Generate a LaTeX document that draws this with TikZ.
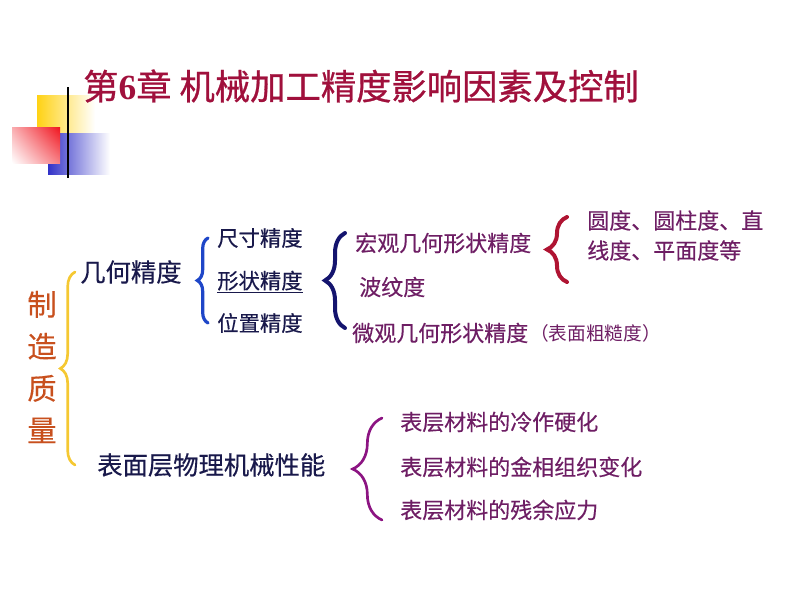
\documentclass[tikz,border=0pt]{standalone}
\usepackage{fontspec}
\newfontfamily\cjk[FakeBold=0.35]{Noto Sans CJK SC}
\newfontfamily\cjktitle[FakeBold=0.8]{Noto Sans CJK SC}
\newfontfamily\cjklight{Noto Sans CJK SC}
\newfontfamily\numfont{Liberation Serif}
\usetikzlibrary{decorations.pathreplacing, positioning, shadings}
\definecolor{titlered}{RGB}{160,16,60}
\definecolor{navytext}{RGB}{25,25,75}
\definecolor{orangetext}{RGB}{200,80,30}
\definecolor{purpletext}{RGB}{110,30,100}
\definecolor{goldbrace}{RGB}{245,200,50}
\definecolor{bluebrace}{RGB}{30,70,200}
\definecolor{navybrace}{RGB}{20,20,110}
\definecolor{redbrace}{RGB}{175,20,50}
\definecolor{purplebrace}{RGB}{140,20,130}
\definecolor{yellowsq}{RGB}{255,210,20}
\definecolor{bluesq}{RGB}{50,50,200}
\definecolor{redsq}{RGB}{240,20,30}

\begin{document}
\begin{tikzpicture}[x=0.75pt,y=-0.75pt,
    title node/.style={anchor=west,inner sep=0pt,color=titlered,font=\cjktitle\fontsize{26.5}{30}\selectfont},
    main node/.style={anchor=west,inner sep=0pt,color=navytext,font=\cjk\fontsize{19}{22}\selectfont},
    sub node/.style={anchor=west,inner sep=0pt,color=navytext,font=\cjk\fontsize{16}{19}\selectfont},
    item node/.style={anchor=west,inner sep=0pt,color=purpletext,font=\cjk\fontsize{16.5}{22.5}\selectfont},
    curly/.style={decorate,decoration={brace,amplitude=#1},line cap=round}]
\useasboundingbox (0,0) rectangle (800,600);

% template squares
\shade[left color=yellowsq, middle color=yellowsq, right color=white] (37,95) rectangle (95,135);
\shade[left color=bluesq, middle color=bluesq, right color=white] (48,133) rectangle (110,174);
\shade[upper right=redsq, lower left=white, upper left=redsq!35, lower right=redsq!55] (12,127) rectangle (60,163);
\draw[line width=2.2pt] (68,87) -- (68,178);

\node[title node] (Title) at (83,86) {第{\numfont\bfseries 6}章 机械加工精度影响因素及控制};

% left side
\node[align=center,inner sep=0pt,color=orangetext,font=\cjk\fontsize{22}{31.5}\selectfont] (Quality) at (42,367) {制\\造\\质\\量};
\coordinate (QTop) at (75,272);
\coordinate (QBot) at (75,465);
\draw[goldbrace,line width=2pt,curly=11pt] (QBot) -- (QTop);

\node[main node] (Geo) at (80,272) {几何精度};
\node[main node] (Surf) at (97,465) {表面层物理机械性能};

% geometric accuracy
\coordinate (GTop) at (208,238);
\coordinate (GBot) at (208,323);
\draw[bluebrace,line width=2.4pt,curly=8pt] (GBot) -- (GTop);
\node[sub node] (Size) at (217,238) {尺寸精度};
\node[sub node] (Shape) at (217,282) {\underline{形状精度}};
\node[sub node] (Pos) at (217,323) {位置精度};

% shape accuracy
\coordinate (STop) at (345,233);
\coordinate (SBot) at (345,328);
\draw[navybrace,line width=3pt,curly=15pt] (SBot) -- (STop);
\node[item node] (Macro) at (355,243) {宏观几何形状精度};
\node[item node] (Wave) at (359,287) {波纹度};
\node[item node] (Micro) at (352,333) {微观几何形状精度};
\node[anchor=west,inner sep=0pt,color=purpletext,font=\cjklight\fontsize{14}{16}\selectfont] (Rough) [right=1pt of Micro] {（表面粗糙度）};

% macro shape
\coordinate (MTop) at (567,217);
\coordinate (MBot) at (567,282);
\draw[redbrace,line width=3pt,curly=15pt] (MBot) -- (MTop);
\node[item node,align=left,anchor=north west] (Form) at (587,210) {圆度、圆柱度、直\\线度、平面度等};

% surface layer
\coordinate (PTop) at (382,418);
\coordinate (PBot) at (382,520);
\draw[purplebrace,line width=2pt,curly=22pt] (PBot) -- (PTop);
\foreach \y/\txt in {422/冷作硬化, 467/金相组织变化, 510/残余应力}
  \node[item node] (Layer\y) at (400,\y) {表层材料的\txt};

\end{tikzpicture}
\end{document}
